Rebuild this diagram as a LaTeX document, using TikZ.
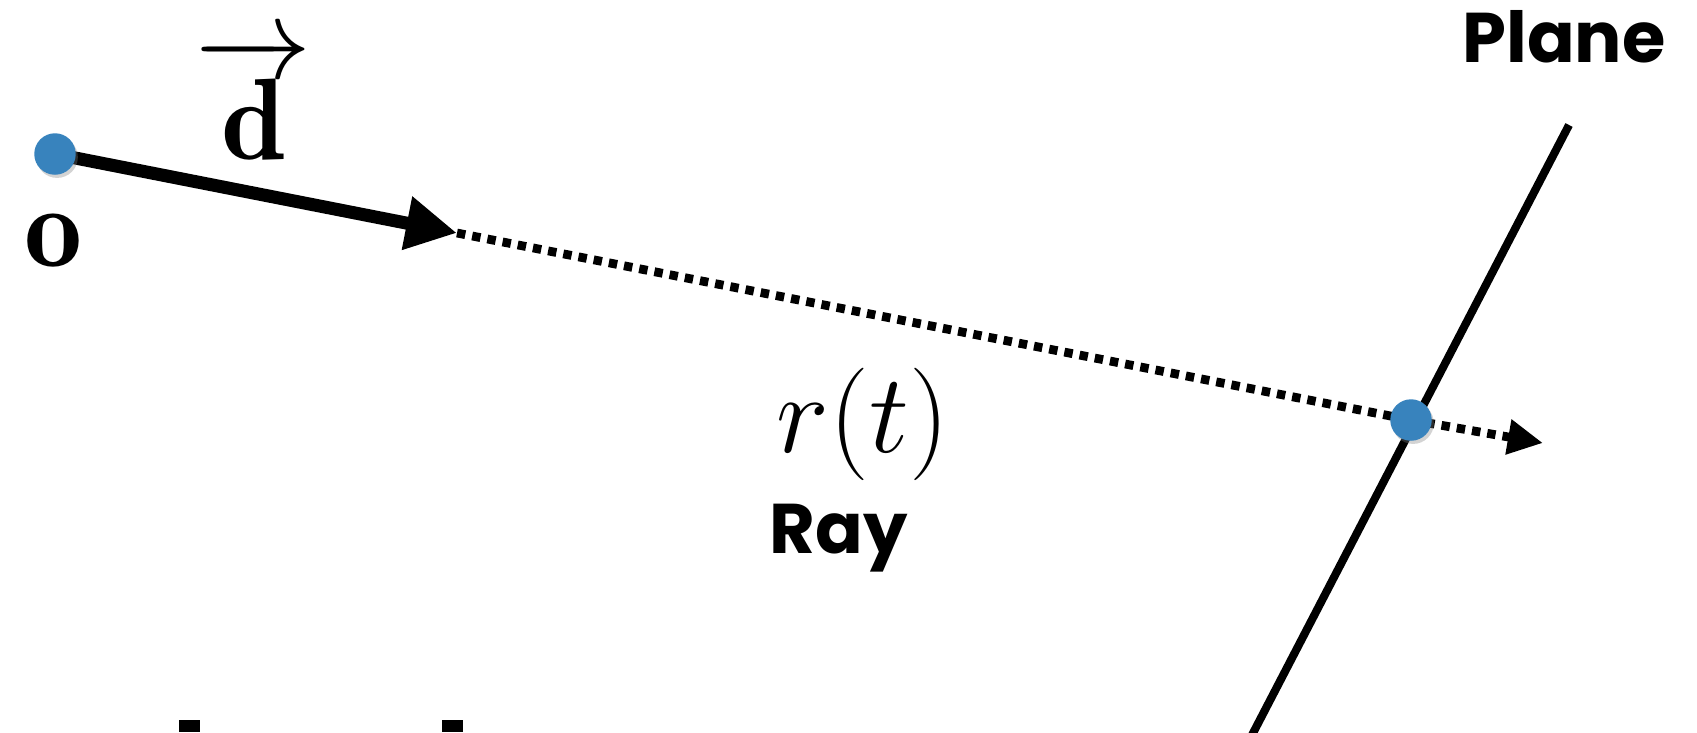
\documentclass[tikz,border=0pt]{standalone}
\usepackage{fix-cm}
\usepackage{amsmath,amssymb}
\usepackage{fontspec}
\newfontfamily\labelfont{Poppins}
\usepackage{xcolor}
\usepackage{tikz}
\usetikzlibrary{arrows.meta,positioning,shadows,calc}
\definecolor{dotblue}{RGB}{56,131,189}
\tikzset{>=stealth,
  hitdot/.style={circle, fill=dotblue, minimum size=11.8pt, inner sep=0pt,
    drop shadow={opacity=0.35, shadow xshift=0.6pt, shadow yshift=-0.9pt}},
  dirarrow/.style={line width=3.7pt, -{Triangle[length=14.5pt, width=14.5pt]}},
  rayline/.style={line width=2.5pt, dash pattern=on 2.4pt off 2pt},
  raytip/.style={-{Triangle[length=10pt, width=9.5pt]}},
  planeline/.style={line width=2.3pt},
  word/.style={font=\labelfont\bfseries, inner sep=0pt}}

\begin{document}
\begin{tikzpicture}[x=0.01cm, y=-0.01cm, every node/.style={inner sep=0pt}]
			\useasboundingbox (0,0) rectangle (1697,732);
			\coordinate (o) at (55,154);
			\coordinate (dtip) at (457,233);
			\coordinate (hit) at (1411,420);
			\coordinate (rtip) at (1543,443);
			\coordinate (ptop) at (1569,125);
			\coordinate (pbot) at (1252,735);
			\draw[planeline] (ptop) -- (pbot);
			\draw[dirarrow] (o) -- (dtip);
			\draw[rayline] (dtip) -- (hit);
			\draw[rayline, raytip] (hit) -- (rtip);
			\node[hitdot] (odot) at (o) {};
			\node[hitdot] (hdot) at (hit) {};
			\node[anchor=base, font=\fontsize{33}{40}\selectfont] (olabel) at (54,266) {$\mathbf{o}$};
			\node[anchor=base, font=\fontsize{33}{40}\selectfont] (dlabel) at (254,159) {$\overrightarrow{\,\mathbf{d}\,}$};
			\node[anchor=base, font=\fontsize{32}{38}\selectfont] (rt) at (863,452) {$r(t)$};
			\node[word, anchor=base, font=\fontsize{20}{24}\labelfont\bfseries] (ray) at (839,553) {Ray};
			\node[word, anchor=base, font=\fontsize{20}{24}\labelfont\bfseries] (plane) at (1564,62) {Plane};
			\fill (179,720) rectangle (200,732);
			\fill (442,720) rectangle (463,732);
		\end{tikzpicture}
\end{document}
